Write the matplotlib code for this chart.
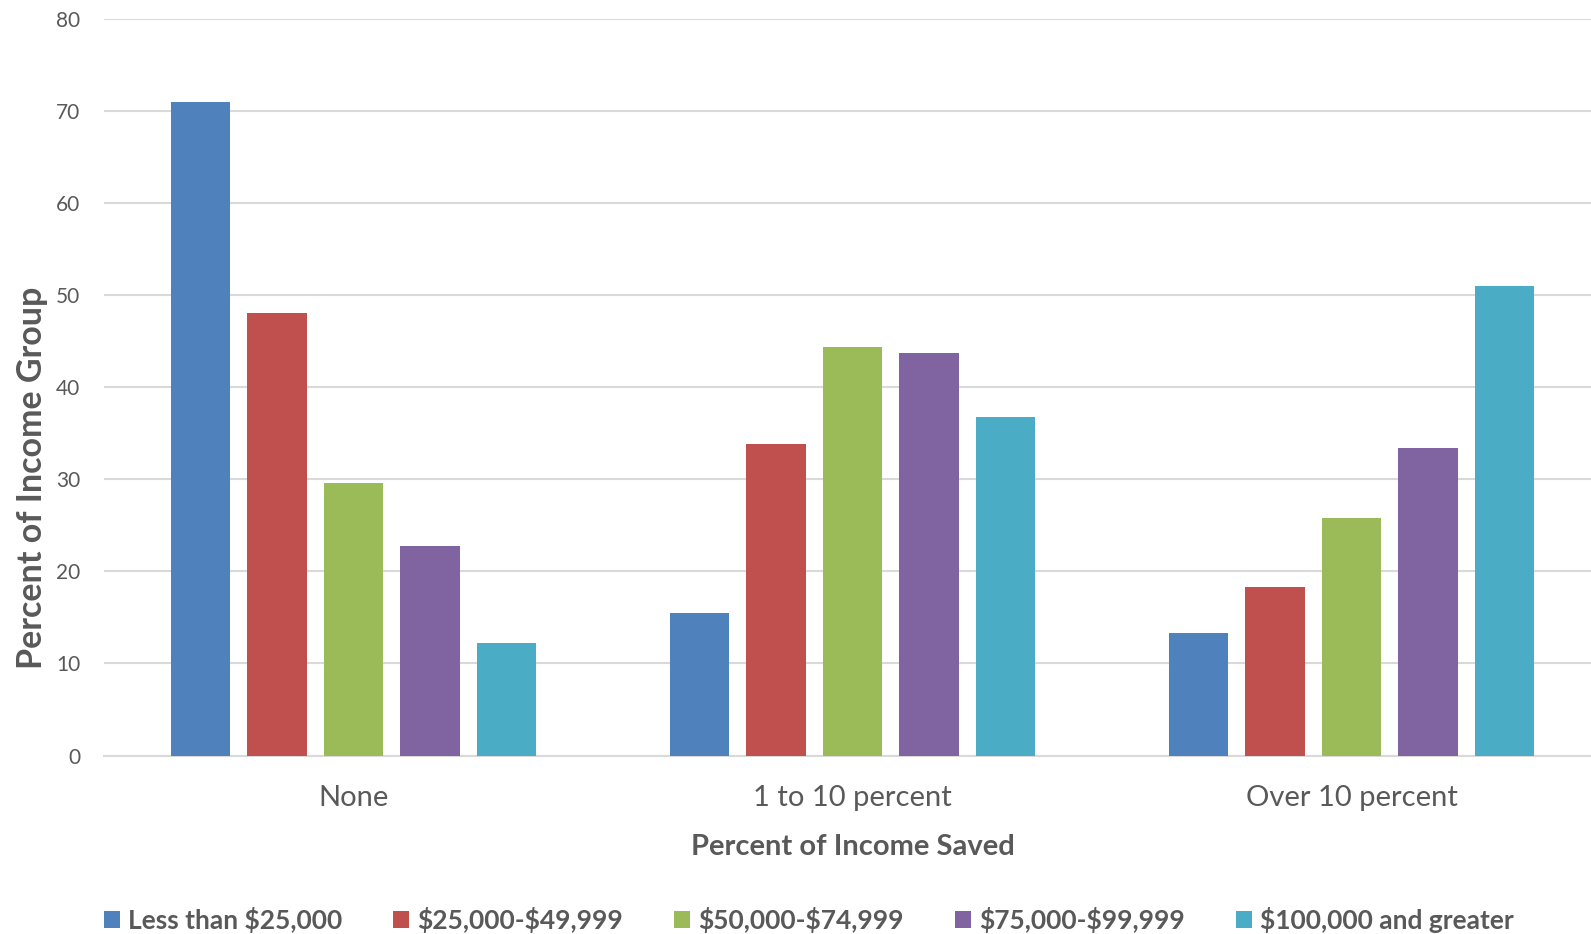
import matplotlib
matplotlib.use("Agg")
import matplotlib.pyplot as plt
import numpy as np

plt.rcParams['font.family'] = ['Lato', 'DejaVu Sans']
plt.rcParams['text.parse_math'] = False

categories = ['None', '1 to 10 percent', 'Over 10 percent']
groups = ['Less than $25,000', '$25,000-$49,999', '$50,000-$74,999',
          '$75,000-$99,999', '$100,000 and greater']
less_25k = [71.0, 15.5, 13.3]
k25_50 = [48.1, 33.8, 18.3]
k50_75 = [29.6, 44.4, 25.8]
k75_100 = [22.8, 43.7, 33.4]
k100_plus = [12.2, 36.8, 51.0]
series = [less_25k, k25_50, k50_75, k75_100, k100_plus]
colors = ['#4F81BD', '#C0504D', '#9BBB59', '#8064A2', '#4BACC6']

W, H = 1591, 934
fig = plt.figure(figsize=(W / 100, H / 100), dpi=100)
ax = fig.add_axes([104 / W, (H - 755.5) / H, (1601 - 104) / W, (755.5 - 19.3) / H])

x = np.arange(len(categories))
step = 0.1533
width = 0.119
for i, (vals, c, name) in enumerate(zip(series, colors, groups)):
    ax.bar(x + (i - 2) * step, vals, width, color=c, label=name, zorder=3)

ax.set_xlim(-0.5, 2.5)
ax.set_ylim(0, 80)
ax.set_yticks(range(0, 81, 10))
ax.set_xticks(x)
ax.set_xticklabels(categories)
ax.grid(axis='y', color='#D9D9D9', linewidth=1.5, zorder=0)
for s in ['top', 'right', 'left']:
    ax.spines[s].set_visible(False)
ax.spines['bottom'].set_color('#D9D9D9')
ax.spines['bottom'].set_linewidth(1.5)
ax.tick_params(axis='y', length=0, pad=17, labelsize=15, labelcolor='#595959')
ax.tick_params(axis='x', length=0, pad=21, labelsize=21, labelcolor='#595959')

ax.set_xlabel('Percent of Income Saved', fontsize=21, fontweight='bold', color='#595959')
ax.xaxis.label.set_va('center')
ax.xaxis.set_label_coords(0.5, -0.124)
ax.set_ylabel('Percent of Income Group', fontsize=24.5, fontweight='bold', color='#595959')
ax.yaxis.label.set_va('center')
ax.yaxis.set_label_coords(-0.048, 0.377)

leg = fig.legend(loc='center left', bbox_to_anchor=(104 / W, 1 - 920 / H), ncol=5,
                 frameon=False, borderpad=0, borderaxespad=0, handlelength=0.6,
                 handleheight=0.6, handletextpad=0.3, columnspacing=1.95,
                 prop={'size': 19, 'weight': 'bold'})
for t in leg.get_texts():
    t.set_color('#595959')

fig.savefig('out.png', dpi=100)
